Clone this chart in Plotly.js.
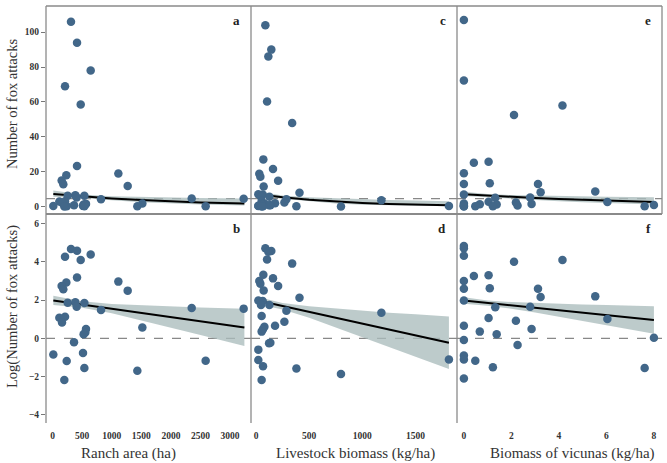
<!DOCTYPE html>
<html><head><meta charset="utf-8">
<script src="https://cdn.plot.ly/plotly-3.0.1.min.js"></script>
<style>html,body{margin:0;padding:0;background:#fff}#chart{width:667px;height:463px}</style>
</head><body><div id="chart"></div><script>
// ---- Panel a/b : ranch area ----
const ranchArea = [310, 412, 643, 209, 474, 412, 231, 152, 180, 1111, 1269, 254, 383, 406, 536, 818, 2352, 3231, 113, 209, 158, 564, 552, 524, 1517, 361, 11, 513, 237, 536, 2588, 1432, 197];
const ranchAttacks = [106, 94, 78, 69, 58.6, 23.3, 18, 15, 12.8, 19, 11.8, 6.3, 6.5, 5.2, 6.2, 4.3, 4.7, 4.6, 2.9, 3.1, 2.3, 1.6, 1.4, 1.2, 1.8, 0.8, 0.43, 0.46, 0.31, 0.21, 0.31, 0.18, 0.11];
const ranchLogAttacks = [4.66, 4.57, 4.38, 4.26, 4.09, 3.17, 2.92, 2.73, 2.56, 2.96, 2.49, 1.86, 1.88, 1.65, 1.84, 1.48, 1.58, 1.55, 1.08, 1.13, 0.83, 0.49, 0.31, 0.21, 0.57, -0.21, -0.85, -0.77, -1.18, -1.55, -1.17, -1.69, -2.17];
const ranchFitX = [11, 500, 1000, 1500, 2000, 2500, 3243];
const ranchFit = [1.98, 1.77, 1.55, 1.33, 1.11, 0.89, 0.57];
const ranchFitLo = [1.74, 1.60, 1.31, 0.95, 0.57, 0.18, -0.40];
const ranchFitHi = [2.22, 1.94, 1.79, 1.72, 1.66, 1.61, 1.54];

// ---- Panel c/d : livestock biomass ----
const livestock = [88, 144, 116, 104, 340, 69, 160, 31, 41, 208, 72, 409, 22, 63, 47, 126, 286, 1179, 267, 179, 53, 79, 66, 53, 135, 123, 22, 22, 66, 53, 380, 799, 1814];
const livestockAttacks = [104, 90, 86, 60.3, 47.9, 27.1, 21.6, 18.9, 17.2, 14.9, 11.6, 8.0, 7.1, 7.0, 5.7, 5.7, 4.2, 3.7, 2.4, 1.9, 3.2, 1.8, 1.6, 1.4, 0.8, 0.77, 0.55, 0.32, 0.23, 0.11, 0.21, 0.16, 0.33];
const livestockLogAttacks = [4.70, 4.56, 4.52, 4.12, 3.90, 3.32, 3.13, 2.99, 2.85, 2.73, 2.50, 2.12, 1.97, 1.95, 1.74, 1.74, 1.44, 1.34, 0.87, 0.66, 1.17, 0.61, 0.47, 0.35, -0.23, -0.26, -0.59, -1.13, -1.46, -2.17, -1.58, -1.86, -1.10];
const livestockFitX = [16, 250, 500, 750, 1000, 1250, 1500, 1814];
const livestockFit = [1.97, 1.68, 1.38, 1.07, 0.77, 0.46, 0.15, -0.23];
const livestockFitLo = [1.78, 1.51, 1.08, 0.58, 0.08, -0.42, -0.96, -1.60];
const livestockFitHi = [2.16, 1.85, 1.68, 1.56, 1.46, 1.34, 1.26, 1.14];

// ---- Panel e/f : biomass of vicunas ----
const vicunas = [0, 0, 0, 2.11, 4.15, 0.42, 1.04, 0, 0, 1.09, 3.12, 3.23, 5.53, 0, 1.32, 2.79, 6.04, 1.04, 2.19, 0, 0.67, 1.38, 2.85, 8.0, 0, 2.26, 0, 0, 0.48, 1.22, 7.61, 0];
const vicunaAttacks = [124, 107, 72.3, 52.5, 58, 25.2, 25.8, 19.1, 13, 13.4, 13, 8.3, 8.7, 7.0, 5.1, 5.3, 2.7, 2.8, 2.4, 1.8, 1.4, 1.2, 1.6, 1.0, 0.9, 0.7, 0.4, 0.33, 0.31, 0.22, 0.21, 0.12];
const vicunaLogAttacks = [4.82, 4.70, 4.31, 4.00, 4.09, 3.25, 3.29, 2.99, 2.59, 2.61, 2.59, 2.16, 2.19, 1.97, 1.62, 1.65, 1.01, 1.06, 0.92, 0.66, 0.35, 0.21, 0.49, 0.03, -0.09, -0.35, -0.90, -1.10, -1.17, -1.51, -1.55, -2.10];
const vicunaFitX = [0, 1, 2, 3, 4, 5, 6, 7, 8];
const vicunaFit = [1.97, 1.84, 1.72, 1.59, 1.47, 1.34, 1.21, 1.09, 0.96];
const vicunaFitLo = [1.80, 1.70, 1.55, 1.35, 1.13, 0.91, 0.69, 0.47, 0.24];
const vicunaFitHi = [2.14, 1.98, 1.89, 1.84, 1.80, 1.77, 1.74, 1.71, 1.68];

const panelLetters = ['a', 'c', 'e', 'b', 'd', 'f'];
const xTitles = ['Ranch area (ha)', 'Livestock biomass (kg/ha)', 'Biomass of vicunas (kg/ha)'];
const yTitles = ['Number of fox attacks', 'Log(Number of fox attacks)'];
const topRefLevel = 4.6;
const bottomRefLevel = 0;

const W = 667, H = 463;
const fx = p => p / W, fy = p => 1 - p / H;
const colEdges = [46, 251, 457, 662];
const rowEdges = [6, 214, 423];
const xTitleCenters = [128, 355, 572];
const yTitleCenters = [104, 307];
const SERIF = 'Liberation Serif, Times New Roman, serif';
const DOT = '#426789';
const BAND = 'rgba(170,188,188,0.78)';

const cols = [
  {x: ranchArea, top: ranchAttacks, bot: ranchLogAttacks, fx: ranchFitX, f: ranchFit, lo: ranchFitLo, hi: ranchFitHi, range: [-113, 3355], dtick: 500},
  {x: livestock, top: livestockAttacks, bot: livestockLogAttacks, fx: livestockFitX, f: livestockFit, lo: livestockFitLo, hi: livestockFitHi, range: [-47, 1890], dtick: 500},
  {x: vicunas, top: vicunaAttacks, bot: vicunaLogAttacks, fx: vicunaFitX, f: vicunaFit, lo: vicunaFitLo, hi: vicunaFitHi, range: [-0.29, 8.34], dtick: 2}
];

const traces = [];
const layout = {
  width: W, height: H,
  margin: {l: 0, r: 0, t: 0, b: 0},
  paper_bgcolor: '#fff', plot_bgcolor: 'rgba(0,0,0,0)',
  showlegend: false,
  font: {family: SERIF, color: '#333'},
  shapes: [], annotations: []
};

cols.forEach((c, i) => {
  for (let r = 0; r < 2; r++) {
    const n = r * 3 + i + 1;
    const xa = 'x' + (n === 1 ? '' : n), ya = 'y' + (n === 1 ? '' : n);
    const tr = v => r === 0 ? v.map(Math.exp) : v;
    const bandY = tr(c.hi).concat(tr(c.lo).slice().reverse());
    const bandX = c.fx.concat(c.fx.slice().reverse());
    traces.push({type: 'scatter', mode: 'lines', x: bandX, y: bandY, fill: 'toself', fillcolor: BAND, line: {width: 0}, hoverinfo: 'skip', xaxis: xa, yaxis: ya});
    traces.push({type: 'scatter', mode: 'lines', x: c.fx, y: tr(c.f), line: {color: '#000', width: 2}, xaxis: xa, yaxis: ya});
    traces.push({type: 'scatter', mode: 'markers', x: c.x, y: r === 0 ? c.top : c.bot, marker: {color: DOT, size: 8.5, line: {width: 0}}, xaxis: xa, yaxis: ya});

    const xKey = 'xaxis' + (n === 1 ? '' : n), yKey = 'yaxis' + (n === 1 ? '' : n);
    layout[xKey] = {
      domain: [fx(colEdges[i]), fx(colEdges[i + 1])], anchor: ya, range: c.range,
      showgrid: false, zeroline: false, showline: false,
      tickmode: 'linear', tick0: 0, dtick: c.dtick,
      ticks: r === 1 ? 'outside' : '', ticklen: 4, tickcolor: 'rgba(0,0,0,0)',
      showticklabels: r === 1,
      tickfont: {family: SERIF, size: 9.5, color: '#333', weight: 'bold'},
      automargin: false
    };
    layout[yKey] = {
      domain: r === 0 ? [fy(rowEdges[1]), fy(rowEdges[0])] : [fy(rowEdges[2]), fy(rowEdges[1])],
      anchor: xa,
      range: r === 0 ? [-4.2, 115] : [-4.42, 6.49],
      tickmode: 'linear', tick0: r === 0 ? 0 : -4, dtick: r === 0 ? 20 : 2,
      showgrid: false, zeroline: false, showline: false,
      ticks: i === 0 ? 'outside' : '', ticklen: 4, tickcolor: '#777', tickwidth: 1,
      showticklabels: i === 0,
      tickfont: {family: SERIF, size: 9.5, color: '#333', weight: 'bold'},
      automargin: false
    };

    layout.shapes.push({type: 'line', xref: xa + ' domain', yref: ya, x0: 0, x1: 1,
      y0: r === 0 ? topRefLevel : bottomRefLevel, y1: r === 0 ? topRefLevel : bottomRefLevel,
      line: {color: '#888', width: 1.2, dash: 'dash'}, layer: 'below'});

    layout.annotations.push({xref: 'paper', yref: 'paper', x: fx(colEdges[i + 1] - 9), y: fy(rowEdges[r] + 14),
      xanchor: 'right', yanchor: 'middle', showarrow: false, text: panelLetters[n - 1],
      font: {family: SERIF, size: 13, color: '#222', weight: 'bold'}});
  }
  layout.annotations.push({xref: 'paper', yref: 'paper', x: fx(xTitleCenters[i]), y: fy(453),
    xanchor: 'center', yanchor: 'middle', showarrow: false, text: xTitles[i],
    font: {family: SERIF, size: 15, color: '#333'}});
});
yTitles.forEach((t, r) => layout.annotations.push({xref: 'paper', yref: 'paper', x: fx(12), y: fy(yTitleCenters[r]),
  xanchor: 'center', yanchor: 'middle', textangle: -90, showarrow: false, text: t,
  font: {family: SERIF, size: 14.5, color: '#333'}}));

const frame = '#8a8a8a';
const seg = (x0, y0, x1, y1, w) => ({type: 'line', xref: 'paper', yref: 'paper', x0: fx(x0), y0: fy(y0), x1: fx(x1), y1: fy(y1), line: {color: frame, width: w}});
layout.shapes.push(seg(colEdges[0], rowEdges[0], colEdges[3], rowEdges[0], 1.3));
layout.shapes.push(seg(colEdges[3], rowEdges[0], colEdges[3], rowEdges[1], 1.3));
layout.shapes.push(seg(colEdges[0], rowEdges[1], colEdges[3], rowEdges[1], 2));
[0, 1, 2].forEach(k => layout.shapes.push(seg(colEdges[k], rowEdges[0], colEdges[k], rowEdges[2], 1.3)));

Plotly.newPlot('chart', traces, layout, {displayModeBar: false, staticPlot: true});
</script></body></html>
